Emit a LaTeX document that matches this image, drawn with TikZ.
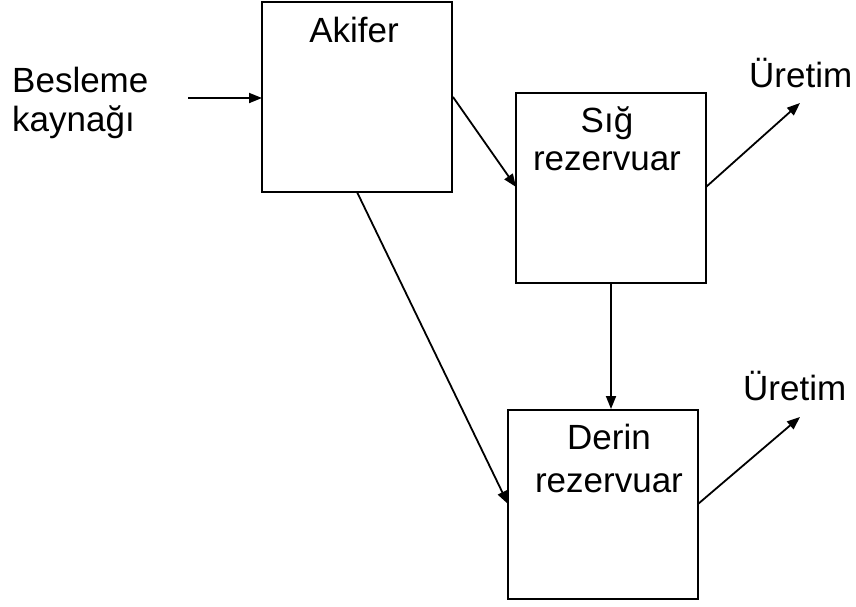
\documentclass[tikz,border=0pt]{standalone}
\usepackage{fontspec}
\setmainfont{Liberation Sans}
\usetikzlibrary{arrows.meta}
\begin{document}
\begin{tikzpicture}[x=1pt,y=-1pt,
  box/.style={draw,line width=2pt,inner sep=0pt},
  lbl/.style={anchor=base,inner sep=0pt,font=\fontsize{35}{40}\selectfont},
  conn/.style={line width=1.8pt,-{Triangle[length=13pt,width=10pt]}}]
\useasboundingbox (0,0) rectangle (856,606);
% boxes
\node[box,minimum width=190pt,minimum height=190pt] (aq) at (357,97) {};
\node[box,minimum width=190pt,minimum height=190pt] (sh) at (611,188) {};
\node[box,minimum width=190pt,minimum height=189pt] (dp) at (603,504.5) {};
% texts
\node[lbl] (taq) at (354,42) {Akifer};
\node[lbl] (tsh1) at (607,132) {Sığ};
\node[lbl] (tsh2) at (607,170) {rezervuar};
\node[lbl] (tdp1) at (609,449) {Derin};
\node[lbl] (tdp2) at (609,492) {rezervuar};
\node[lbl,anchor=base west] (tb1) at (12,92) {Besleme};
\node[lbl,anchor=base west] (tb2) at (12,131) {kaynağı};
\node[lbl,anchor=base west] (tu1) at (749,87) {Üretim};
\node[lbl,anchor=base west] (tu2) at (743,400) {Üretim};
% connector end points
\coordinate (bs) at (188,98);
\coordinate (aqw) at (262,98);
\coordinate (aqe) at (453,97);
\coordinate (shw) at (516,187);
\coordinate (she) at (706,187);
\coordinate (u1) at (800,103);
\coordinate (aqs) at (357,192);
\coordinate (dpw) at (508,504);
\coordinate (shs) at (611,283);
\coordinate (dpn) at (611,409);
\coordinate (dpe) at (698,504);
\coordinate (u2) at (800,417);
% connectors
\draw[conn] (bs) -- (aqw);
\draw[conn] (aqe) -- (shw);
\draw[conn] (she) -- (u1);
\draw[conn] (aqs) -- (dpw);
\draw[conn] (shs) -- (dpn);
\draw[conn] (dpe) -- (u2);
\end{tikzpicture}
\end{document}
